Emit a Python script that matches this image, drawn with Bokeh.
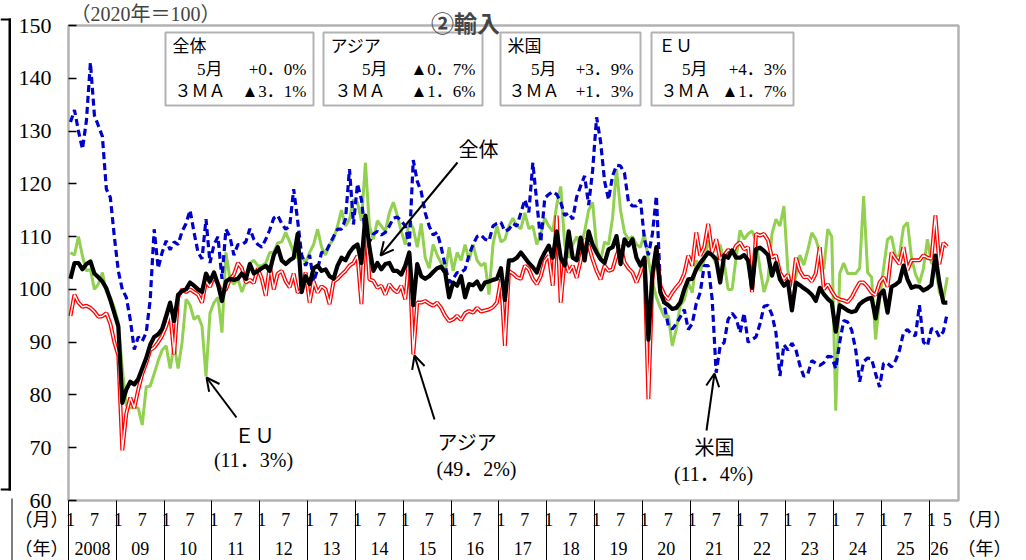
from bokeh.plotting import figure
from bokeh.models import (FixedTicker, LinearAxis, Range1d, Label, BoxAnnotation,
                          Arrow, OpenHead)
from bokeh.embed import file_html
from bokeh.resources import INLINE

# ---------------- data (index, 2020 = 100), monthly Jan 2008 - May 2026 ----------------
total = [
    102, 105, 105, 103.8, 104.8, 105.3, 103, 102.3, 101.5, 100.2, 98, 95.5,          # 2008
    93, 78.5, 81, 82.5, 82, 83, 85, 87, 89.5, 91, 91.5, 92.5,                       # 2009
    95, 97.5, 94, 99, 99.7, 100, 101.3, 100.7, 100, 99.5, 103, 101.5,               # 2010
    103.2, 101, 97.8, 101.5, 102, 101.8, 102, 103, 102, 104.8, 103, 103.5,          # 2011
    104, 104.5, 103.5, 106.5, 108, 105.5, 104.8, 105.5, 106, 110.5, 99.5, 102.5,    # 2012
    101, 104, 104.5, 103.5, 103.8, 102.5, 102, 104.5, 106, 105.5, 107, 108,         # 2013
    108.5, 105, 114, 108, 103.5, 105, 103.8, 104.8, 105, 103.5, 103.5, 102.8,       # 2014
    104.5, 107, 97, 104.8, 102.5, 102, 102.5, 103.3, 104, 104.3, 103.2, 98.5,       # 2015
    101.3, 100.7, 102.5, 98.5, 101, 100.8, 101.5, 100, 101.3, 101.5, 101.8, 102,    # 2016
    104, 98, 105.5, 105.5, 106, 107, 106, 105, 104.2, 103.2, 105.5, 107,            # 2017
    108.3, 106, 111, 106, 104.5, 111, 106, 105.5, 109.8, 105.5, 111, 108.5,         # 2018
    107, 105.7, 105, 107.6, 108, 110.1, 104.8, 109.5, 108.3, 109.5, 106, 104.5,     # 2019
    106, 90.5, 103, 108, 99.4, 97.5, 97, 96.3, 96.5, 97.5, 100, 101.9,              # 2020
    102, 103.8, 105, 106, 107, 106.5, 105.7, 101.3, 106.4, 106, 107.4, 106,         # 2021
    106, 106.5, 105.5, 100.3, 107.6, 107.9, 107.3, 106.5, 102.6, 105, 101.9, 100.7, # 2022
    101.5, 96, 101.3, 100.8, 100.2, 99.7, 99, 97.8, 100.3, 99.1, 98.2, 97.5,        # 2023
    92, 97, 96.5, 96, 95.7, 95.9, 97.2, 97.8, 98.2, 98.4, 94.5, 99,                 # 2024
    99.8, 95.6, 100.5, 100.9, 101.5, 104.5, 101.9, 100.3, 100.6, 100.5, 99.8, 100.2, # 2025
    100.8, 106.4, 101.3, 97.5, 97.5,                                                # 2026
]
asia = [
    95, 99, 97.5, 96.7, 96.9, 96.5, 95.8, 94.8, 94.9, 95.5, 93.5, 90,
    87.5, 69.5, 76.5, 79.5, 77.5, 81, 84, 86, 88.5, 89, 90, 91.2,
    93, 95.5, 87.7, 98.5, 100, 99.5, 100, 99.5, 99, 97.5, 101.5, 100.5,
    102.5, 101, 99.5, 100, 101.9, 102.8, 105, 104, 101.3, 101.8, 101.2, 104,
    102, 98.8, 104.5, 100, 103, 103.5, 101.5, 100.4, 103, 99.4, 100, 103.2,
    97.5, 101.5, 99.4, 100.6, 100, 97.2, 101.5, 102, 102.8, 103.5, 104.5, 105,
    106.4, 97.2, 113.3, 101.9, 101.6, 100.3, 100.7, 99, 101, 100, 99.4, 100.7,
    98.1, 106.4, 87.7, 97.5, 97.5, 97.8, 97.3, 96.9, 97.5, 96.5, 95, 94,
    94.3, 95, 94.2, 95.5, 95.9, 95.6, 96.5, 95.8, 96, 96.2, 96.6, 97.5,
    101.9, 89.3, 103.5, 103, 102.3, 102, 104.5, 103.8, 102, 101, 102.5, 105.4,
    106.4, 100.7, 114, 97.5, 105.7, 103.2, 104.5, 102.2, 105.4, 109.5, 108.3, 105.7,
    103.5, 101.9, 104.5, 103.5, 103.8, 106.4, 108.3, 105.1, 104, 103.2, 101.3, 103.2,
    105.7, 79.2, 101.9, 107.9, 100.7, 99, 98.1, 99.4, 100.4, 101.3, 103, 106.4,
    104.5, 110.8, 106.4, 108, 112.4, 107, 109.5, 105.7, 106.5, 107.5, 106.8, 108.3,
    108.9, 107.6, 108, 99.5, 110.5, 110.2, 110.5, 109.3, 106, 106.5, 103.2, 101.9,
    102.8, 99.4, 106, 103.5, 102.3, 102.4, 101.5, 103, 108, 100, 101, 99.6,
    98.5, 98.1, 97.9, 97.6, 98.5, 100, 101.3, 101.3, 100.5, 99.4, 98.9, 101.3,
    102.3, 100.5, 107, 105.8, 104.8, 108, 103.7, 105.5, 105.5, 105.5, 106.5, 106,
    105.8, 114, 104.8, 108.8, 108.1,
]
usa = [
    131.7, 134, 130, 126.6, 132, 143, 133, 131, 129, 119, 117.4, 110,
    103.5, 100, 98.5, 94.3, 88.6, 91, 90.2, 91.8, 98, 111.4, 104, 107,
    109.2, 107.5, 109, 108.5, 111, 112.5, 115, 110.8, 107, 105.8, 113.3, 105,
    108.5, 110, 102, 111.4, 110, 106.5, 108.5, 108.5, 109, 111.5, 109.5, 108.5,
    108, 109.5, 111.3, 113.5, 114, 112.5, 111.4, 112, 119, 113, 106.5, 104.5,
    106.5, 101.5, 103.8, 107, 107, 108.5, 110, 111.4, 111.4, 113.3, 122.8, 112.3,
    120, 117, 110.2, 109, 110.5, 111, 110.3, 110.8, 112, 113.5, 113.7, 113,
    112, 108.2, 124.5, 120.5, 118.5, 114.5, 112, 110.3, 110.8, 108, 104.5, 101.3,
    102, 103.2, 103.2, 103.8, 106.5, 108.5, 110, 110.3, 109.5, 109.2, 112, 112.5,
    112.7, 111, 111.4, 112.5, 112, 114.5, 117, 114.6, 124, 116.5, 109, 117.3,
    118, 118.5, 118, 116.5, 114, 114.5, 113.3, 117.5, 119.6, 121.5, 116, 122.5,
    132.6, 128, 120.5, 117, 121.5, 123.5, 123.4, 122, 116.5, 115.8, 115.8, 117,
    109.5, 106.5, 110.5, 117.7, 100.7, 96.9, 93.1, 92.5, 93.5, 94.8, 96.2, 92.4,
    93.5, 97.3, 99.4, 104.5, 104.5, 98.1, 84.2, 89.3, 89.9, 94.3, 95.5, 94.5,
    91.8, 95.5, 90, 90.5, 91, 93.5, 96.8, 97, 95.2, 91.8, 83.6, 89.5,
    88.5, 89.8, 88.6, 85.6, 83.5, 84, 86.5, 86, 85.6, 86.1, 87.3, 87.2,
    85, 90, 94.1, 93.8, 92.3, 88.6, 82.5, 86.3, 87, 86.8, 84, 81.5,
    86, 86, 85.3, 86.5, 88.5, 91.8, 92.4, 91.5, 91.2, 97, 90, 89.3,
    92.5, 92.5, 91, 92, 95.6,
]
eu = [
    107, 106.5, 110, 106.3, 103.5, 103.8, 100, 101, 103.2, 99.5, 98.5, 96.5,
    93.7, 85, 78, 77.5, 77.7, 77.5, 74.3, 81.5, 81.7, 84, 86.5, 88.5,
    89.3, 85, 89.5, 85, 90, 98.1, 97, 94.3, 95, 93, 83.5, 95.5,
    97.5, 98.5, 91.8, 107, 102, 101, 102, 99.5, 101.5, 105, 105.5, 104.5,
    104.5, 105, 107, 107, 108.8, 109, 110.8, 109, 107, 106, 106.5, 105,
    107, 108.5, 111.4, 108, 106.5, 108.5, 109.5, 112, 115, 112, 113.3, 117,
    116.5, 113, 124, 112, 109.5, 113, 112, 111, 114.5, 116.5, 114, 111,
    108.5, 113, 111.5, 108, 112.5, 106, 104, 108.5, 106.5, 105, 103.2, 108,
    103.5, 107, 105.5, 108.5, 105.5, 108.5, 105.5, 104.5, 105, 99, 108.5, 112,
    109, 109.5, 112, 113.5, 112, 111.5, 114.5, 111.5, 112, 108.5, 110.5, 113.5,
    112, 111, 116, 119.5, 108.5, 106, 108.5, 110, 108, 111, 115, 116.5,
    108, 105.5, 109, 108.5, 113.5, 122.8, 115, 110.8, 109.5, 110, 108.5, 108,
    110.5, 105.5, 101.5, 98.5, 96.5, 94.8, 95, 89.3, 92.5, 97, 98, 101.2,
    99.4, 105.5, 103.5, 105.5, 109.3, 106.5, 104.8, 108.5, 105, 100, 100, 106,
    111.2, 109.5, 110.5, 111.1, 109.2, 104, 99.5, 102, 110.5, 113.3, 112, 115.8,
    103.5, 100, 102.5, 106.5, 104.6, 107.5, 110.7, 109.5, 107, 103.8, 111.4, 110,
    77, 103, 105, 103, 103, 103, 104, 117.7, 103.2, 102.3, 90.5, 98.1,
    104, 109.5, 110, 106.3, 106.5, 111.8, 112.7, 106, 102.9, 101.2, 104, 109.5,
    105, 104.5, 99.5, 98.1, 102.3,
]
months = list(range(len(total)))          # 0 = Jan 2008

year_labels = ["2008"] + ["%02d" % (y % 100) for y in range(2009, 2027)]
y_ticks = list(range(60, 151, 10))

box_names = ["全体", "アジア", "米国", "ＥＵ"]
box_month = ["+0．0%", "▲0．7%", "+3．9%", "+4．3%"]
box_3ma = ["▲3．1%", "▲1．6%", "+1．3%", "▲1．7%"]

# ---------------- layout helpers (page pixels -> data) ----------------
X0, X1 = -0.5, 222.8          # month range shown inside the chart box
FL, FR, FT, FB = 68, 958, 25, 500


def X(px):
    return X0 + (px - FL) / (FR - FL) * (X1 - X0)


def Y(py):
    return 60 + (FB - py) / (FB - FT) * 90


SERIF = "'Liberation Serif', 'Noto Sans CJK JP'"
W, H = 1026, 560

p = figure(width=W, height=H, output_backend="svg", toolbar_location=None,
           x_range=Range1d(X(0), X(W)), y_range=Range1d(Y(H), Y(0)),
           x_axis_location=None, y_axis_location=None,
           min_border=0, min_border_left=0, min_border_right=0,
           min_border_top=0, min_border_bottom=0,
           background_fill_color="white", border_fill_color="white")
p.grid.visible = False
p.outline_line_color = None

# y axis (fixed at the left edge of the chart box)
yax = LinearAxis(ticker=FixedTicker(ticks=y_ticks), fixed_location=X0,
                 axis_line_color=None, major_tick_in=8, major_tick_out=0,
                 major_tick_line_width=1.5, minor_tick_line_color=None,
                 major_label_standoff=17, major_label_text_font=SERIF,
                 major_label_text_font_size="22px", major_label_text_color="black")
p.add_layout(yax, "left")

# x axis, month row; year separators drawn as long minor ticks
month_ticks, month_text = [], {}
for k in range(len(year_labels)):
    month_ticks.append(12 * k)
    month_text[12 * k] = "1"
    if k < len(year_labels) - 1:
        month_ticks.append(12 * k + 6)
        month_text[12 * k + 6] = "7"
month_ticks.append(months[-1])
month_text[months[-1]] = str(months[-1] % 12 + 1)
for px in (41, 984):
    month_ticks.append(X(px))
    month_text[X(px)] = "（月）"
bounds = [12 * k - 0.5 for k in range(len(year_labels))]

xa = LinearAxis(ticker=FixedTicker(ticks=month_ticks, minor_ticks=bounds),
                fixed_location=60, major_label_overrides=month_text,
                axis_line_color=None, major_tick_line_color=None,
                major_tick_in=0, major_tick_out=0,
                minor_tick_in=0, minor_tick_out=60, minor_tick_line_color="black",
                minor_tick_line_width=1, major_label_standoff=-51,
                major_label_text_font=SERIF, major_label_text_font_size="18px",
                major_label_text_color="black")
p.add_layout(xa, "below")

# x axis, year row
year_ticks, year_text = [], {}
for k, lab in enumerate(year_labels):
    c = 12 * k + 5.5 if k < len(year_labels) - 1 else (12 * k - 0.5 + months[-1] + 0.5) / 2
    year_ticks.append(c)
    year_text[c] = lab
for px in (41, 984):
    year_ticks.append(X(px))
    year_text[X(px)] = "（年）"
xb = LinearAxis(ticker=FixedTicker(ticks=year_ticks), fixed_location=60,
                major_label_overrides=year_text, axis_line_color=None,
                major_tick_line_color=None, major_tick_in=0, major_tick_out=0,
                minor_tick_line_color=None, minor_tick_in=0, minor_tick_out=0,
                major_label_standoff=38, major_label_text_font=SERIF,
                major_label_text_font_size="18px", major_label_text_color="black")
p.add_layout(xb, "below")

# ---------------- series ----------------
p.line(months, eu, line_color="#92D050", line_width=3)
p.line(months, usa, line_color="#0000CC", line_width=3.2, line_dash="7 4")
p.line(months, asia, line_color="#FF0000", line_width=4)
p.line(months, asia, line_color="white", line_width=1.4)
p.line(months, total, line_color="black", line_width=4.2, line_join="round")

# chart box
p.add_layout(BoxAnnotation(left=X0, right=X1, bottom=60, top=150, fill_color=None,
                           line_color="black", line_width=2.5))

# ---------------- info boxes ----------------
box_lr = [(165, 313), (323, 482), (500, 640), (651, 793)]
month_right = [222, 387, 556, 707]
ma_left = [174, 334, 508, 660]
for i, name in enumerate(box_names):
    l, r = box_lr[i]
    p.add_layout(BoxAnnotation(left=X(l), right=X(r), top=Y(32), bottom=Y(105),
                               fill_color="white", fill_alpha=1, line_color="black",
                               line_width=2))
    common = dict(text_font=SERIF, text_font_size="17px", text_color="black",
                  text_baseline="middle")
    p.add_layout(Label(x=X(l + 7), y=Y(46), text=name, text_align="left", **common))
    p.add_layout(Label(x=X(month_right[i]), y=Y(69), text="5月", text_align="right", **common))
    p.add_layout(Label(x=X(r - 7), y=Y(69), text=box_month[i], text_align="right", **common))
    p.add_layout(Label(x=X(ma_left[i]), y=Y(91), text="３ＭＡ", text_align="left", **common))
    p.add_layout(Label(x=X(r - 7), y=Y(91), text=box_3ma[i], text_align="right", **common))

# ---------------- annotations ----------------
ann = dict(text_font=SERIF, text_font_size="20px", text_color="black",
           text_align="center", text_baseline="middle")
p.add_layout(Label(x=X(478), y=Y(149), text="全体", **ann))
p.add_layout(Label(x=X(467), y=Y(442), text="アジア", **ann))
p.add_layout(Label(x=X(476), y=Y(468), text="(49．2%)", **ann))
p.add_layout(Label(x=X(254), y=Y(435), text="ＥＵ", **ann))
p.add_layout(Label(x=X(253), y=Y(459), text="(11．3%)", **ann))
p.add_layout(Label(x=X(714), y=Y(447), text="米国", **ann))
p.add_layout(Label(x=X(713), y=Y(473), text="(11．4%)", **ann))

arrows = [((457, 162), (380, 255)), ((434, 419), (414, 355)),
          ((236, 417), (206, 377)), ((706, 430), (714, 373))]
for (sx, sy), (ex, ey) in arrows:
    p.add_layout(Arrow(end=OpenHead(size=13, line_width=2, line_color="black"),
                       x_start=X(sx), y_start=Y(sy), x_end=X(ex), y_end=Y(ey),
                       line_width=2, line_color="black"))

# ---------------- texts above the chart box ----------------
p.add_layout(Label(x=X(70), y=Y(13), text="（2020年＝100）", text_font=SERIF,
                   text_font_size="20px", text_align="left", text_baseline="middle"))
p.add_layout(Label(x=X(465), y=Y(21), text="②輸入", text_font="'Noto Sans CJK JP'",
                   text_font_style="bold", text_font_size="23px", text_align="center",
                   text_baseline="alphabetic"))

# neighbouring panel edge on the far left
p.add_layout(BoxAnnotation(left=X(8), right=X(10.5), top=Y(18), bottom=Y(490),
                           fill_color="black", fill_alpha=1, line_color=None))
p.add_layout(BoxAnnotation(left=X(0), right=X(10.5), top=Y(18), bottom=Y(20),
                           fill_color="black", fill_alpha=1, line_color=None))
p.add_layout(BoxAnnotation(left=X(0), right=X(10.5), top=Y(488), bottom=Y(490),
                           fill_color="black", fill_alpha=1, line_color=None))
p.add_layout(BoxAnnotation(left=X(11), right=X(12), top=Y(498), bottom=Y(560),
                           fill_color="black", fill_alpha=1, line_color=None))

open("out.html", "w").write(file_html(p, INLINE))
